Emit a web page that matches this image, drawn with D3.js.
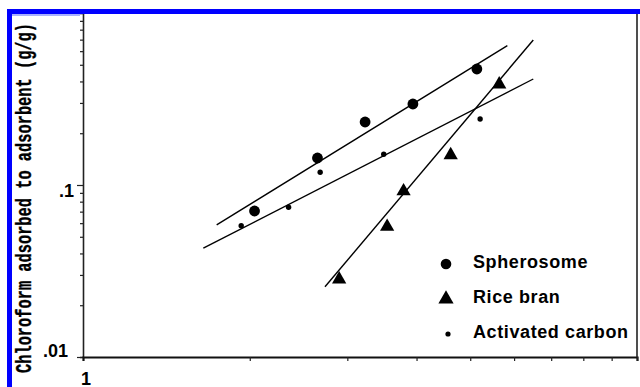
<!DOCTYPE html>
<html>
<head>
<meta charset="utf-8">
<script src="https://cdn.jsdelivr.net/npm/d3@7"></script>
<style>
  body { margin: 0; background: #fff; }
  svg { display: block; }
</style>
</head>
<body>
<svg id="chart" width="640" height="387"></svg>
<script>
// Adsorption isotherms (log-log)
const seriesNames = ["Spherosome", "Rice bran", "Activated carbon"];

const spherosomeX = [2.04, 2.65, 3.23, 3.94, 5.14];
const spherosomeY = [0.0706, 0.1435, 0.2324, 0.2958, 0.4725];

const riceBranX = [2.90, 3.54, 3.79, 4.61, 5.64];
const riceBranY = [0.0283, 0.0572, 0.0920, 0.1494, 0.3849];

const carbonX = [1.93, 2.35, 2.68, 3.49, 5.21];
const carbonY = [0.0580, 0.0742, 0.1185, 0.1509, 0.2419];

// Regression lines, as [start, end] in data units
const spherosomeFitX = [1.743, 5.834];
const spherosomeFitY = [0.0586, 0.6455];
const riceBranFitX = [2.734, 6.498];
const riceBranFitY = [0.0256, 0.6966];
const carbonFitX = [1.649, 6.498];
const carbonFitY = [0.0429, 0.4133];

const yTickLabels = [0.01, 0.1];
const xTickLabels = [1];
const yAxisTitle = "Chloroform adsorbed to adsorbent (g/g)";

const svg = d3.select("#chart");
const W = 640, H = 387;
const mLeft = 83, mRight = 637, mTop = 13, mBottom = 357;

const x = d3.scaleLog().domain([1, 10]).range([mLeft, mRight]);
const y = d3.scaleLog().domain([0.01, 1]).range([mBottom, mTop]);

svg.append("rect").attr("width", W).attr("height", H).attr("fill", "#fff");

svg.append("defs").append("clipPath").attr("id", "plotClip")
  .append("rect").attr("x", mLeft).attr("y", 14).attr("width", mRight - mLeft).attr("height", mBottom - 14);

// Left axis with log minor ticks
const yTicks = y.ticks();
const yAxis = d3.axisLeft(y).tickValues(yTicks).tickSize(3).tickFormat("");
const gy = svg.append("g").attr("transform", `translate(${mLeft},0)`).call(yAxis);
gy.select(".domain").attr("stroke", "#222").attr("stroke-width", 1.6);
gy.selectAll(".tick line")
  .attr("stroke", "#222").attr("stroke-width", 1.2)
  .attr("x2", d => yTickLabels.some(v => Math.abs(v - d) < 1e-9) ? -6 : -3);

// y tick labels
const yLabelShift = d => d < 0.05 ? { dx: -15, dy: 0 } : { dx: -9, dy: 12 };
svg.append("g").selectAll("text").data(yTickLabels).join("text")
  .attr("x", d => mLeft + yLabelShift(d).dx)
  .attr("y", d => y(d) + yLabelShift(d).dy)
  .attr("text-anchor", "end")
  .attr("font-family", "Liberation Sans, Arial, sans-serif")
  .attr("font-weight", "bold").attr("font-size", 18)
  .text(d => d3.format(".2~f")(d).replace(/^0/, ""));

// Bottom axis
const xAxis = d3.axisBottom(x).tickValues(d3.range(2, 11)).tickSize(4).tickFormat("");
const gx = svg.append("g").attr("transform", `translate(0,${mBottom})`).call(xAxis);
gx.select(".domain").attr("stroke", "#111").attr("stroke-width", 2.2);
gx.selectAll(".tick line").attr("stroke", "#222").attr("stroke-width", 1.2);

svg.append("g").selectAll("text").data(xTickLabels).join("text")
  .attr("x", d => x(d) + 3)
  .attr("y", mBottom + 28)
  .attr("text-anchor", "middle")
  .attr("font-family", "Liberation Sans, Arial, sans-serif")
  .attr("font-weight", "bold").attr("font-size", 18)
  .text(d => d);

// Right frame line
svg.append("line").attr("x1", mRight).attr("x2", mRight).attr("y1", 14).attr("y2", mBottom)
  .attr("stroke", "#222").attr("stroke-width", 1.6);

// Fit lines
const plot = svg.append("g").attr("clip-path", "url(#plotClip)");
const fits = [
  [spherosomeFitX, spherosomeFitY],
  [carbonFitX, carbonFitY],
  [riceBranFitX, riceBranFitY]
];
const line = d3.line().x(d => x(d[0])).y(d => y(d[1]));
plot.selectAll("path.fit").data(fits).join("path")
  .attr("class", "fit")
  .attr("d", f => line(d3.zip(f[0], f[1])))
  .attr("fill", "none").attr("stroke", "#000").attr("stroke-width", 1.4);

// Markers
const triPath = d3.symbol().type(d3.symbolTriangle).size(88);
plot.selectAll("circle.sph").data(d3.zip(spherosomeX, spherosomeY)).join("circle")
  .attr("class", "sph").attr("cx", d => x(d[0])).attr("cy", d => y(d[1])).attr("r", 5.4).attr("fill", "#000");
plot.selectAll("path.rb").data(d3.zip(riceBranX, riceBranY)).join("path")
  .attr("class", "rb").attr("transform", d => `translate(${x(d[0])},${y(d[1])})`)
  .attr("d", triPath).attr("fill", "#000");
plot.selectAll("circle.ac").data(d3.zip(carbonX, carbonY)).join("circle")
  .attr("class", "ac").attr("cx", d => x(d[0])).attr("cy", d => y(d[1])).attr("r", 2.7).attr("fill", "#000");

// Legend
const legend = svg.append("g").attr("transform", "translate(446,264)");
const legendRows = legend.selectAll("g").data(seriesNames).join("g")
  .attr("transform", (d, i) => `translate(0,${i * 35})`);
legendRows.each(function(d, i) {
  const g = d3.select(this);
  if (i === 0) g.append("circle").attr("r", 5.3).attr("fill", "#000");
  if (i === 1) g.append("path").attr("d", d3.symbol().type(d3.symbolTriangle).size(100)).attr("fill", "#000");
  if (i === 2) g.append("circle").attr("cx", 2).attr("r", 2.6).attr("fill", "#000");
  g.append("text").attr("x", 27).attr("y", 4)
    .attr("font-family", "Liberation Sans, Arial, sans-serif")
    .attr("font-weight", "bold").attr("font-size", 18)
    .attr("letter-spacing", 0.6)
    .text(d);
});

// Y axis title
svg.append("text")
  .attr("transform", `translate(31,${(373 + 23) / 2}) rotate(-90)`)
  .attr("text-anchor", "middle")
  .attr("font-family", "Liberation Mono, Courier New, monospace")
  .attr("font-weight", "bold").attr("font-size", 22)
  .attr("stroke", "#000").attr("stroke-width", 0.35)
  .attr("textLength", 350).attr("lengthAdjust", "spacingAndGlyphs")
  .text(yAxisTitle);

// Window frame
svg.append("rect").attr("x", 12).attr("y", 14).attr("width", 68).attr("height", 2).attr("fill", "#a8b0ff");
svg.append("rect").attr("x", 7).attr("y", 9).attr("width", W - 7).attr("height", 5).attr("fill", "#0000ff");
svg.append("rect").attr("x", 7).attr("y", 9).attr("width", 5).attr("height", H - 9).attr("fill", "#0000ff");
</script>
</body>
</html>
